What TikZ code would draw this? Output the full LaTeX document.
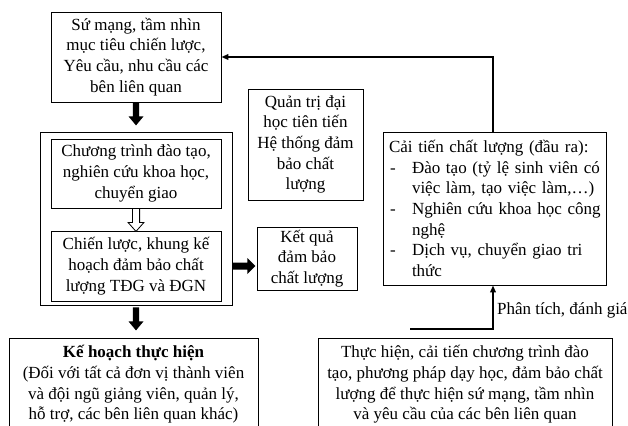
\documentclass[tikz,border=0pt]{standalone}
\usepackage{fontspec}
\setmainfont{Liberation Serif}
\usetikzlibrary{arrows.meta}
\begin{document}
\begin{tikzpicture}[x=1pt,y=-1pt,
  font=\fontsize{17}{20.7}\selectfont,
  box/.style={draw, line width=0.8pt, align=center, inner sep=0pt},
  conn/.style={line width=1.8pt},
  tipend/.style={-{Triangle[length=7pt,width=5.5pt]}},
  blk/.style={fill=black},
  hollow/.style={draw=black, line width=0.8pt, fill=white}]
\useasboundingbox (0,0) rectangle (628,425);
\clip (0,0) rectangle (628,425);
\fill[white] (0,0) rectangle (628,425);

\node[box, minimum width=170pt, minimum height=90pt] (mission) at (136,57)
  {Sứ mạng, tầm nhìn\\mục tiêu chiến lược,\\Yêu cầu, nhu cầu các\\bên liên quan};
\node[box, minimum width=192pt, minimum height=173pt] (outer) at (136,218.5) {};
\node[box, minimum width=170pt, minimum height=69pt] (prog) at (136,173.5)
  {Chương trình đào tạo,\\nghiên cứu khoa học,\\chuyển giao};
\node[box, minimum width=170pt, minimum height=70pt] (strat) at (136,266)
  {Chiến lược, khung kế\\hoạch đảm bảo chất\\lượng TĐG và ĐGN};
\node[box, minimum width=115pt, minimum height=111pt] (gov) at (305.5,144.5)
  {Quản trị đại\\học tiên tiến\\Hệ thống đảm\\bảo chất\\lượng};
\node[box, minimum width=100pt, minimum height=63pt] (result) at (307,258.5)
  {Kết quả\\đảm bảo\\chất lượng};
\node[box, minimum height=153pt, align=left, inner xsep=6pt, text width=211pt] (improve) at (494.5,208.5)
  {\mbox{Cải tiến chất lượng (đầu ra):}\\
   \mbox{\makebox[23pt][l]{\hspace{1pt}-}Đào tạo (tỷ lệ sinh viên có}\\
   \mbox{\hspace*{23pt}việc làm, tạo việc làm,…)}\\
   \mbox{\makebox[23pt][l]{\hspace{1pt}-}Nghiên cứu khoa học công}\\
   \mbox{\hspace*{23pt}nghệ}\\
   \mbox{\makebox[23pt][l]{\hspace{1pt}-}Dịch vụ, chuyển giao tri}\\
   \mbox{\hspace*{23pt}thức}};
\node[box, anchor=north, minimum width=249pt, inner ysep=7pt] (plan) at (133.5,338)
  {\textbf{Kế hoạch thực hiện}\\(Đối với tất cả đơn vị thành viên\\và đội ngũ giảng viên, quản lý,\\hỗ trợ, các bên liên quan khác)};
\node[box, anchor=north, minimum width=294pt, inner ysep=7pt] (exec) at (465,338)
  {Thực hiện, cải tiến chương trình đào\\tạo, phương pháp dạy học, đảm bảo chất\\lượng để thực hiện sứ mạng, tầm nhìn\\và yêu cầu của các bên liên quan};

% feedback connectors
\draw[conn, tipend] ([xshift=-1.5pt]improve.north) |- (mission.east);
\coordinate (pa) at (410,329);
\draw[conn, tipend] (pa) -| ([xshift=-1.5pt]improve.south);
\node[anchor=west, inner sep=0pt] (ptlabel) at (497,310) {Phân tích, đánh giá};

% block arrows
\fill[blk] ([xshift=-3.2pt]mission.south) -- ++(0,14) -- ++(-4.3,0) -- ++(7.5,9)
  -- ++(7.5,-9) -- ++(-4.3,0) -- ++(0,-14) -- cycle;
\filldraw[hollow] ([xshift=-3.6pt]prog.south) -- ++(0,14) -- ++(-4.4,0) -- ++(8,9)
  -- ++(8,-9) -- ++(-4.4,0) -- ++(0,-14) -- cycle;
\fill[blk] ([xshift=-3.2pt,yshift=-2pt]outer.south) -- ++(0,14) -- ++(-4.3,0) -- ++(7.5,9)
  -- ++(7.5,-9) -- ++(-4.3,0) -- ++(0,-14) -- cycle;
\coordinate (ra) at (outer.east |- strat.east);
\fill[blk] ([yshift=3.5pt]ra) -- ++(15,0) -- ++(0,-4.5) -- ++(8,8) -- ++(-8,8)
  -- ++(0,-4.5) -- ++(-15,0) -- cycle;
\end{tikzpicture}
\end{document}
